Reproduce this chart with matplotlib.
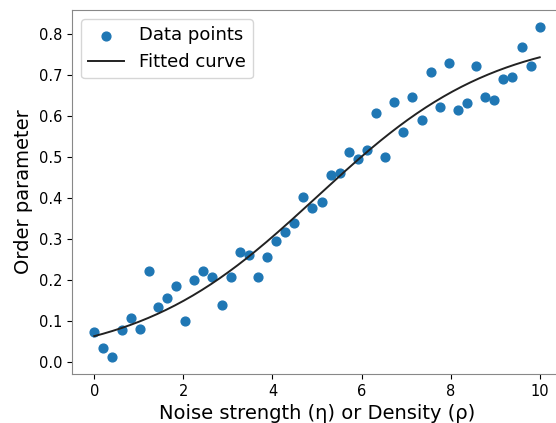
import matplotlib
matplotlib.use("Agg")
import matplotlib.pyplot as plt
import numpy as np

# values
x_values = np.linspace(0, 10, 50)
y_values = [
    0.071, 0.034, 0.010, 0.076, 0.105, 0.080, 0.222, 0.134, 0.156, 0.185,
    0.100, 0.200, 0.222, 0.205, 0.139, 0.207, 0.268, 0.260, 0.207, 0.254,
    0.295, 0.317, 0.339, 0.402, 0.375, 0.388, 0.454, 0.460, 0.512, 0.493,
    0.515, 0.607, 0.500, 0.632, 0.560, 0.644, 0.588, 0.707, 0.622, 0.727,
    0.613, 0.630, 0.722, 0.644, 0.639, 0.690, 0.695, 0.766, 0.722, 0.817,
]

# sigmoid fit parameters (amplitude, slope, midpoint)
fit_a, fit_b, fit_c = 0.804, 0.4965, 5.0


def sigmoid(x, a, b, c):
    return a / (1 + np.exp(-b * (x - c)))


def main() -> None:
    fig = plt.figure(figsize=(5.56, 4.23), dpi=100)
    ax = fig.add_axes([72 / 556, 49 / 423, 490 / 556, 364 / 423])

    ax.scatter(x_values, y_values, color="#1f77b4", s=40, label="Data points")
    x_fit = np.linspace(0, 10, 200)
    ax.plot(x_fit, sigmoid(x_fit, fit_a, fit_b, fit_c), color="#222222", lw=1.4, label="Fitted curve")

    ax.set_xlabel("Noise strength (η) or Density (ρ)", fontsize=14)
    ax.set_ylabel("Order parameter", fontsize=14)
    ax.tick_params(labelsize=10.5)
    for sp in ax.spines.values():
        sp.set_color("#888888")
    ax.legend(loc="upper left", fontsize=13)

    fig.savefig("out.png", dpi=100)


if __name__ == "__main__":
    main()
